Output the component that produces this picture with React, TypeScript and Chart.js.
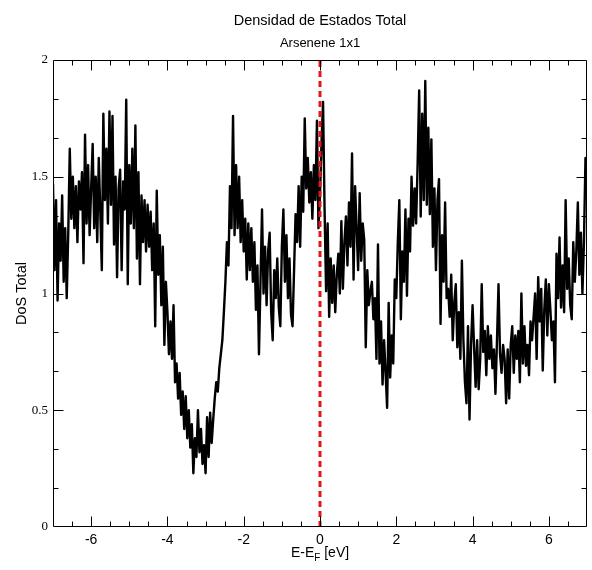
import React, { useEffect, useRef } from "react";
import { Chart, registerables } from "chart.js";

Chart.register(...registerables);

// ---- Text ----
const TITLE = "Densidad de Estados Total";
const SUBTITLE = "Arsenene 1x1";
const X_LABEL_MAIN = "E-E";
const X_LABEL_SUB = "F";
const X_LABEL_TAIL = " [eV]";
const Y_LABEL = "DoS Total";

// ---- Axes ----
const X_MIN = -7;
const X_MAX = 7;
const Y_MIN = 0;
const Y_MAX = 2;
const X_TICKS = [-6, -4, -2, 0, 2, 4, 6];
const Y_TICKS = [0, 0.5, 1, 1.5, 2];
const Y_TICK_LABELS = ["0", "0.5", "1", "1.5", "2"];
const FERMI_LEVEL = 0;

// ---- Energy grid (eV) ----
const E_START = -7;
const E_STEP = 0.04;

// ---- DoS values, one array per eV ----
const dosM7 = [1.47, 1.10, 1.40, 0.97, 1.30, 1.14, 1.42, 1.05, 1.28, 0.98, 1.26, 1.62, 1.32, 1.50, 1.28, 1.46, 1.22, 1.48, 1.36, 1.52, 1.13, 1.68, 1.30, 1.55, 1.25];
const dosM6 = [1.45, 1.64, 1.28, 1.50, 1.22, 1.58, 1.35, 1.10, 1.77, 1.40, 1.62, 1.30, 1.78, 1.38, 1.76, 1.21, 1.50, 1.07, 1.45, 1.53, 1.10, 1.48, 1.36, 1.83, 1.04];
const dosM5 = [1.55, 1.30, 1.62, 1.28, 1.72, 1.15, 1.52, 1.04, 1.42, 1.22, 1.40, 1.18, 1.38, 1.20, 1.35, 1.10, 1.30, 0.86, 1.44, 1.08, 1.25, 0.95, 1.20, 0.78, 1.05];
const dosM4 = [0.92, 0.74, 0.88, 0.72, 0.95, 0.62, 0.70, 0.55, 0.66, 0.48, 0.58, 0.42, 0.56, 0.38, 0.50, 0.34, 0.44, 0.23, 0.38, 0.30, 0.50, 0.32, 0.42, 0.27, 0.35];
const dosM3 = [0.23, 0.47, 0.30, 0.49, 0.36, 0.46, 0.55, 0.62, 0.58, 0.68, 0.74, 0.80, 0.92, 1.05, 1.22, 1.12, 1.46, 1.28, 1.76, 1.25, 1.55, 1.28, 1.50, 1.22, 1.40];
const dosM2 = [1.18, 1.32, 1.06, 1.30, 1.10, 1.28, 1.05, 1.22, 0.93, 1.12, 0.74, 1.05, 1.36, 1.00, 1.20, 0.95, 1.18, 1.26, 0.92, 0.80, 1.10, 0.98, 1.15, 0.94, 0.86];
const dosM1 = [1.20, 1.36, 1.05, 1.25, 0.98, 1.15, 0.91, 0.86, 1.10, 1.34, 1.22, 1.46, 1.20, 1.50, 1.35, 1.75, 1.45, 1.58, 1.39, 1.52, 1.32, 1.55, 1.40, 1.74, 1.28];
const dosP0 = [1.42, 1.65, 1.82, 1.36, 1.01, 1.30, 0.90, 1.15, 0.96, 1.12, 0.92, 1.08, 1.17, 1.00, 1.31, 1.02, 1.22, 1.33, 1.12, 1.39, 1.20, 1.60, 1.06, 1.46, 1.28];
const dosP1 = [1.10, 1.43, 1.14, 1.30, 1.23, 0.77, 1.10, 0.95, 1.01, 1.05, 0.89, 0.98, 0.72, 1.21, 0.70, 0.88, 0.61, 0.80, 0.66, 0.51, 0.96, 0.64, 0.82, 0.70, 1.06];
const dosP2 = [0.98, 1.22, 1.40, 0.89, 1.18, 1.05, 1.36, 0.99, 1.32, 1.18, 1.50, 1.29, 1.45, 1.30, 1.56, 1.87, 1.33, 1.77, 1.40, 1.91, 1.38, 1.71, 1.34, 1.66, 1.20];
const dosP3 = [1.45, 1.10, 1.40, 1.49, 0.87, 1.25, 1.05, 1.39, 0.98, 1.02, 0.90, 1.08, 0.80, 0.96, 1.04, 0.77, 0.92, 0.72, 1.14, 0.80, 0.62, 0.53, 0.86, 0.46, 0.78];
const dosP4 = [0.95, 0.77, 0.60, 0.80, 0.59, 0.72, 1.04, 0.75, 0.84, 0.65, 0.86, 0.72, 0.82, 0.68, 0.76, 0.57, 0.80, 1.04, 0.74, 0.66, 0.78, 0.72, 0.53, 0.76, 0.55];
const dosP5 = [0.78, 0.86, 0.66, 0.82, 0.72, 0.84, 0.62, 1.00, 0.70, 0.86, 0.69, 0.78, 0.65, 0.88, 0.80, 0.90, 1.00, 0.72, 1.07, 0.88, 1.02, 0.67, 0.93, 1.06, 0.82];
const dosP6 = [1.04, 0.93, 0.80, 0.88, 0.62, 1.17, 0.98, 1.24, 0.94, 1.12, 0.92, 1.40, 1.02, 1.15, 0.95, 0.89, 1.22, 1.05, 1.18, 1.39, 1.08, 1.26, 1.00, 1.22, 1.58, 1.50];

const dosTotal = [
  ...dosM7, ...dosM6, ...dosM5, ...dosM4, ...dosM3, ...dosM2, ...dosM1,
  ...dosP0, ...dosP1, ...dosP2, ...dosP3, ...dosP4, ...dosP5, ...dosP6,
];

const SANS = "'Liberation Sans', Arial, Helvetica, sans-serif";
const SERIF = "'Liberation Serif', 'Times New Roman', serif";

const decorPlugin = {
  id: "decor",
  afterDatasetsDraw(chart: any) {
    const { ctx, chartArea: a, scales } = chart;
    const xs = scales.x;
    const ys = scales.y;
    ctx.save();
    ctx.strokeStyle = "#000";
    ctx.lineWidth = 1;
    const L = Math.round(a.left) + 0.5;
    const R = Math.round(a.right) - 0.5;
    const T = Math.round(a.top) + 0.5;
    const B = Math.round(a.bottom) - 0.5;
    ctx.beginPath();
    ctx.rect(L, T, R - L, B - T);
    ctx.stroke();

    const MAJ = 10;
    const MIN = 5;
    ctx.beginPath();
    for (let i = -13; i <= 13; i++) {
      const v = i * 0.5;
      const px = Math.round(xs.getPixelForValue(v)) + 0.5;
      const len = i % 4 === 0 ? MAJ : MIN;
      ctx.moveTo(px, B);
      ctx.lineTo(px, B - len);
      ctx.moveTo(px, T);
      ctx.lineTo(px, T + len);
    }
    for (let i = 1; i <= 11; i++) {
      const v = i / 6;
      const py = Math.round(ys.getPixelForValue(v)) + 0.5;
      const len = i % 3 === 0 ? MAJ : MIN;
      ctx.moveTo(L, py);
      ctx.lineTo(L + len, py);
      ctx.moveTo(R, py);
      ctx.lineTo(R - len, py);
    }
    ctx.stroke();

    const cx = (a.left + a.right) / 2;
    ctx.fillStyle = "#000";
    ctx.textAlign = "center";
    ctx.textBaseline = "alphabetic";
    ctx.font = `14.5px ${SANS}`;
    ctx.fillText(TITLE, cx, 25);
    ctx.font = `13px ${SANS}`;
    ctx.fillText(SUBTITLE, cx, 47);

    // x axis label with subscript
    ctx.textAlign = "left";
    ctx.font = `14px ${SANS}`;
    const w1 = ctx.measureText(X_LABEL_MAIN).width;
    const w3 = ctx.measureText(X_LABEL_TAIL).width;
    ctx.font = `10px ${SANS}`;
    const w2 = ctx.measureText(X_LABEL_SUB).width;
    const x0 = cx - (w1 + w2 + w3) / 2;
    const by = 557;
    ctx.font = `14px ${SANS}`;
    ctx.fillText(X_LABEL_MAIN, x0, by);
    ctx.font = `10px ${SANS}`;
    ctx.fillText(X_LABEL_SUB, x0 + w1, by + 4);
    ctx.font = `14px ${SANS}`;
    ctx.fillText(X_LABEL_TAIL, x0 + w1 + w2, by);

    // y axis label
    ctx.save();
    ctx.translate(22, (a.top + a.bottom) / 2);
    ctx.rotate(-Math.PI / 2);
    ctx.textAlign = "center";
    ctx.textBaseline = "middle";
    ctx.font = `14.5px ${SANS}`;
    ctx.fillText(Y_LABEL, 0, 0);
    ctx.restore();

    ctx.restore();
  },
};

export default function App() {
  const ref = useRef<HTMLCanvasElement | null>(null);

  useEffect(() => {
    if (!ref.current) return;
    const points = dosTotal.map((y, i) => ({
      x: Math.round((E_START + i * E_STEP) * 100) / 100,
      y,
    }));
    const chart = new Chart(ref.current, {
      type: "line",
      data: {
        datasets: [
          {
            label: "E_F",
            data: [
              { x: FERMI_LEVEL, y: Y_MIN },
              { x: FERMI_LEVEL, y: Y_MAX },
            ],
            borderColor: "#e8141a",
            borderWidth: 3,
            borderDash: [6, 4],
            pointRadius: 0,
          },
          {
            label: Y_LABEL,
            data: points,
            borderColor: "#000",
            borderWidth: 2.4,
            borderJoinStyle: "round",
            pointRadius: 0,
            tension: 0,
          },
        ],
      },
      options: {
        animation: false,
        responsive: false,
        devicePixelRatio: 1,
        layout: { padding: { top: 60, right: 5, left: 0, bottom: 0 } },
        plugins: {
          legend: { display: false },
          tooltip: { enabled: false },
          title: { display: false },
        },
        scales: {
          x: {
            type: "linear",
            min: X_MIN,
            max: X_MAX,
            afterBuildTicks: (s: any) => {
              s.ticks = X_TICKS.map((v) => ({ value: v }));
            },
            afterFit: (s: any) => {
              s.height = 43;
            },
            ticks: {
              color: "#000",
              font: { family: SANS, size: 14 },
              padding: 5,
              maxRotation: 0,
              autoSkip: false,
              callback: (v: any) => String(v),
            },
            grid: { display: false, drawTicks: false },
            border: { display: false },
          },
          y: {
            type: "linear",
            min: Y_MIN,
            max: Y_MAX,
            afterBuildTicks: (s: any) => {
              s.ticks = Y_TICKS.map((v) => ({ value: v }));
            },
            afterFit: (s: any) => {
              s.width = 53;
            },
            ticks: {
              color: "#000",
              font: { family: SERIF, size: 13 },
              padding: 5,
              autoSkip: false,
              callback: (v: any) => {
                const idx = Y_TICKS.indexOf(Number(v));
                return idx >= 0 ? Y_TICK_LABELS[idx] : "";
              },
            },
            grid: { display: false, drawTicks: false },
            border: { display: false },
          },
        },
      },
      plugins: [decorPlugin],
    } as any);
    return () => chart.destroy();
  }, []);

  return (
    <div style={{ position: "absolute", left: 0, top: 0, width: 592, height: 570, background: "#fff" }}>
      <canvas ref={ref} width={592} height={570} style={{ display: "block" }} />
    </div>
  );
}
